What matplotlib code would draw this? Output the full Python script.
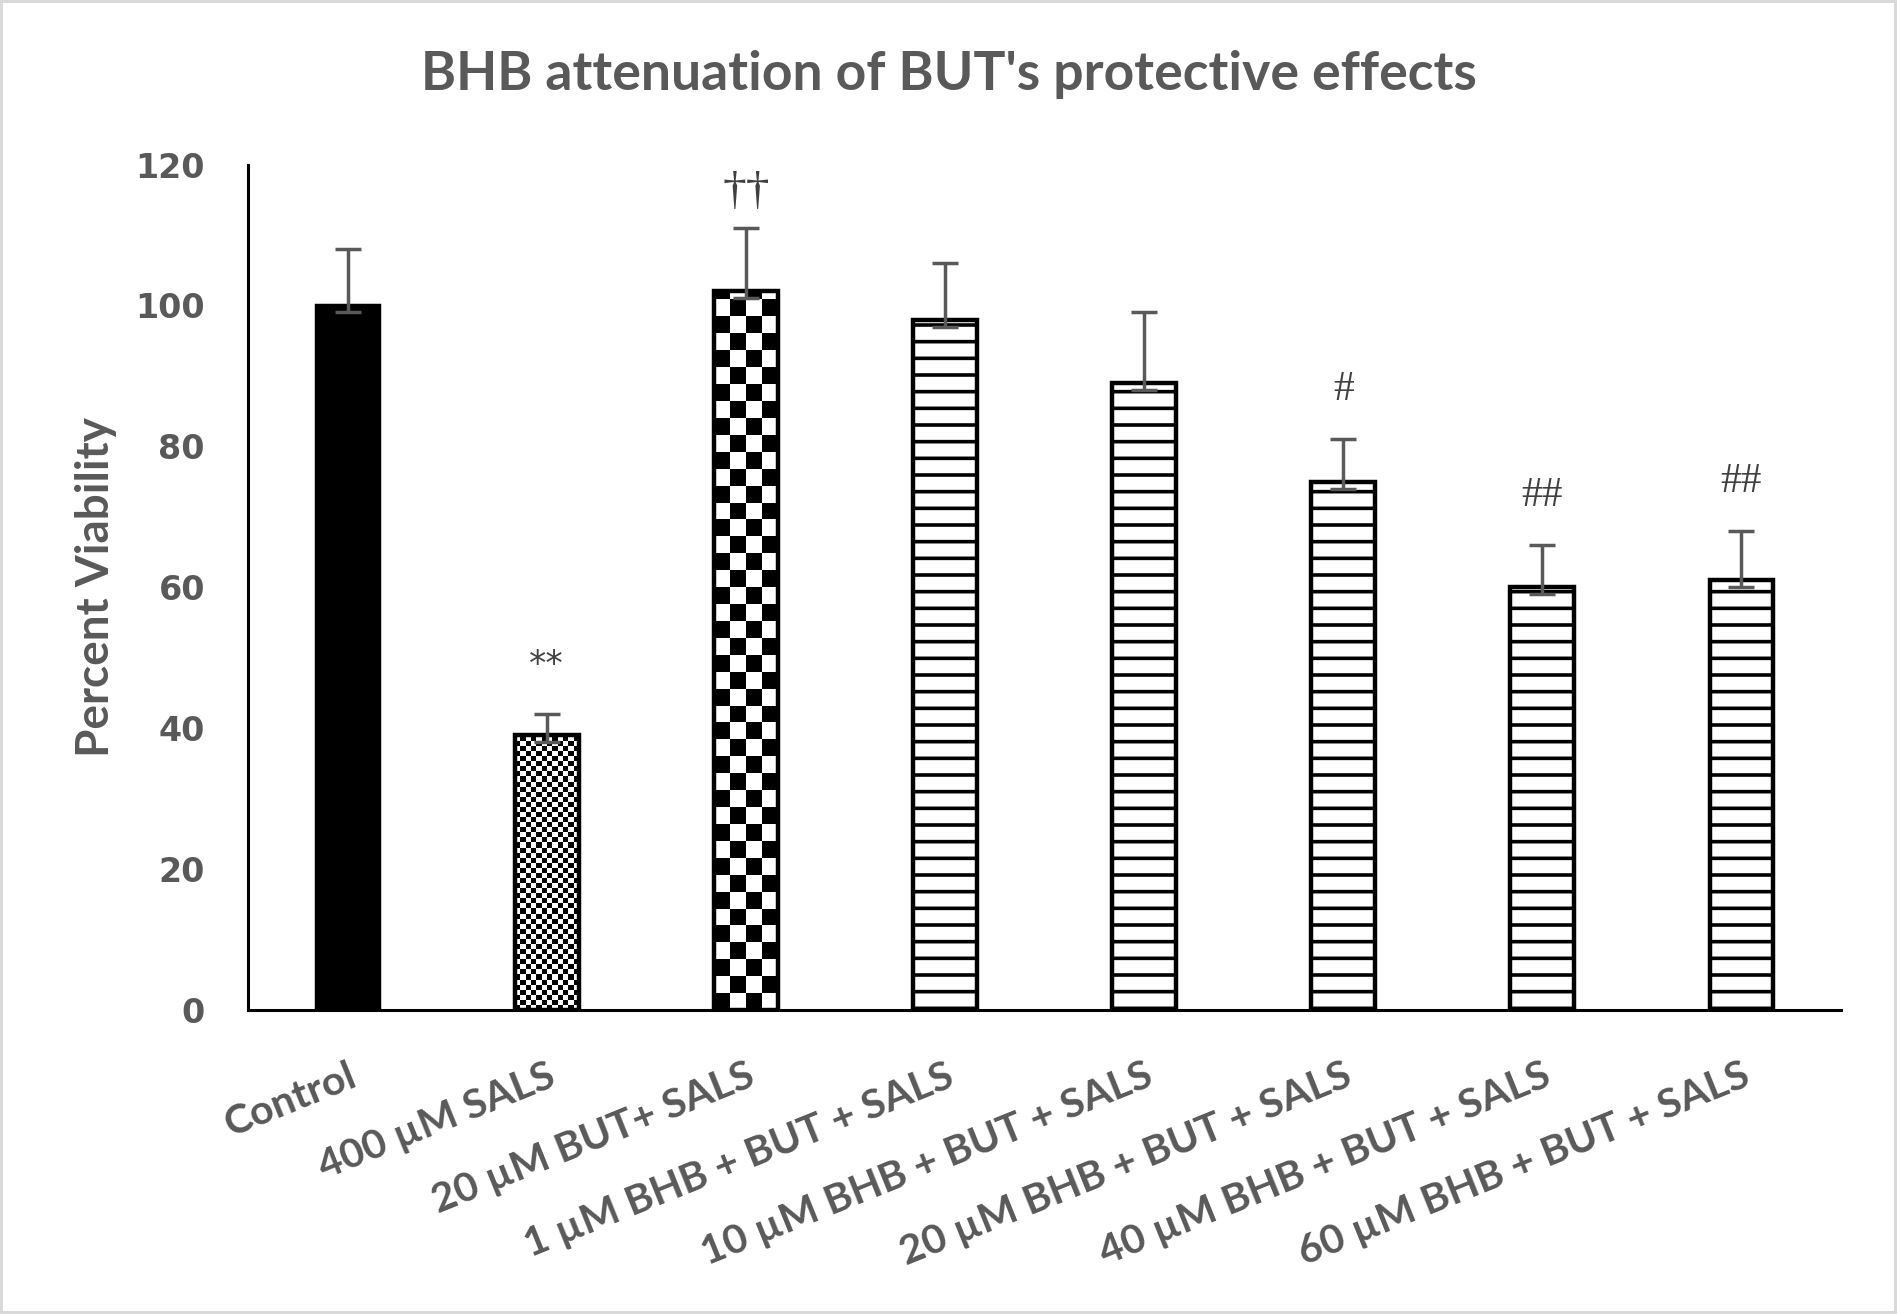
import numpy as np
import matplotlib
matplotlib.use("Agg")
import matplotlib.pyplot as plt

categories = ["Control", "400 µM SALS", "20 µM BUT+ SALS", "1 µM BHB + BUT + SALS",
              "10 µM BHB + BUT + SALS", "20 µM BHB + BUT + SALS",
              "40 µM BHB + BUT + SALS", "60 µM BHB + BUT + SALS"]
viability = [100, 39, 102, 98, 89, 75, 60, 61]
err_low = [1, 1, 1, 1, 1, 1, 1, 1]
err_high = [8, 3, 9, 8, 10, 6, 6, 7]
marks = ["", "**", "††", "", "", "#", "##", "##"]
yticks = [0, 20, 40, 60, 80, 100, 120]

GREY = "#595959"
plt.rcParams["hatch.linewidth"] = 2.6
plt.rcParams["hatch.color"] = "black"

fig = plt.figure(figsize=(18.97, 13.14), dpi=100)
fig.patch.set_edgecolor("#d9d9d9")
fig.patch.set_linewidth(3)
ax = fig.add_axes([0.1307, 0.2314, 0.8398, 0.6434])

x = np.arange(len(categories))
styles = ["solid", "fine", "coarse", "lines", "lines", "lines", "lines", "lines"]
bars = []
for xi, v, s in zip(x, viability, styles):
    if s == "solid":
        b = ax.bar(xi, v, width=0.32, color="black", edgecolor="black", linewidth=2.5, zorder=2)
    elif s == "lines":
        b = ax.bar(xi, v, width=0.32, color="white", edgecolor="black", linewidth=3.2, hatch="-", zorder=2)
    else:
        b = ax.bar(xi, v, width=0.32, color="none", edgecolor="black", linewidth=3.2, zorder=3)
    bars.append(b[0])


def checker(bar, nx, cell_h):
    x0, y0 = bar.get_x(), bar.get_y()
    w, h = bar.get_width(), bar.get_height()
    ny = int(np.ceil(h / cell_h))
    board = np.add.outer(np.arange(ny), np.arange(nx)) % 2
    im = ax.imshow(board, cmap="gray", extent=(x0, x0 + w, y0, y0 + ny * cell_h),
                   origin="lower", aspect="auto", interpolation="nearest", zorder=2)
    im.set_clip_path(bar)


checker(bars[1], 12, 0.72)
checker(bars[2], 4, 2.4)

ax.errorbar(x, viability, yerr=[err_low, err_high], fmt="none", ecolor=GREY,
            elinewidth=2.5, capsize=9.5, capthick=2.5, zorder=4)

for xi, v, e, m in zip(x, viability, err_high, marks):
    if not m:
        continue
    if m == "**":
        ax.text(xi, v + e + 7, m, ha="center", va="center", fontsize=25,
                color="#404040", family="DejaVu Sans")
    elif m.startswith("†"):
        ax.text(xi, v + e + 5, m, ha="center", va="center", fontsize=34,
                color="#404040", family="Liberation Serif")
    else:
        ax.text(xi, v + e + 7, m, ha="center", va="center", fontsize=30,
                color="#404040", family="Liberation Serif")

ax.set_xlim(-0.5, len(categories) - 0.5)
ax.set_ylim(0, 120)
ax.set_yticks(yticks)
ax.set_yticklabels([str(t) for t in yticks], fontsize=24, fontweight="bold",
                   color=GREY, family="DejaVu Sans")
ax.set_xticks(x)
ax.set_xticklabels(categories, rotation=22, ha="right", va="top", rotation_mode="anchor",
                   fontsize=29.5, fontweight="bold", color=GREY, family="Lato")
ax.tick_params(axis="both", length=0)
ax.tick_params(axis="x", pad=34)
ax.tick_params(axis="y", pad=31)
for side in ["top", "right"]:
    ax.spines[side].set_visible(False)
for side in ["left", "bottom"]:
    ax.spines[side].set_linewidth(2.2)
    ax.spines[side].set_color("black")

ax.set_ylabel("Percent Viability", fontsize=33, fontweight="bold", color=GREY,
              family="Lato", labelpad=13)
fig.text(0.5, 0.943, "BHB attenuation of BUT's protective effects", ha="center",
         va="center", fontsize=38.5, fontweight="bold", color=GREY, family="Lato")

fig.savefig("out.png", dpi=100, edgecolor=fig.get_edgecolor())
